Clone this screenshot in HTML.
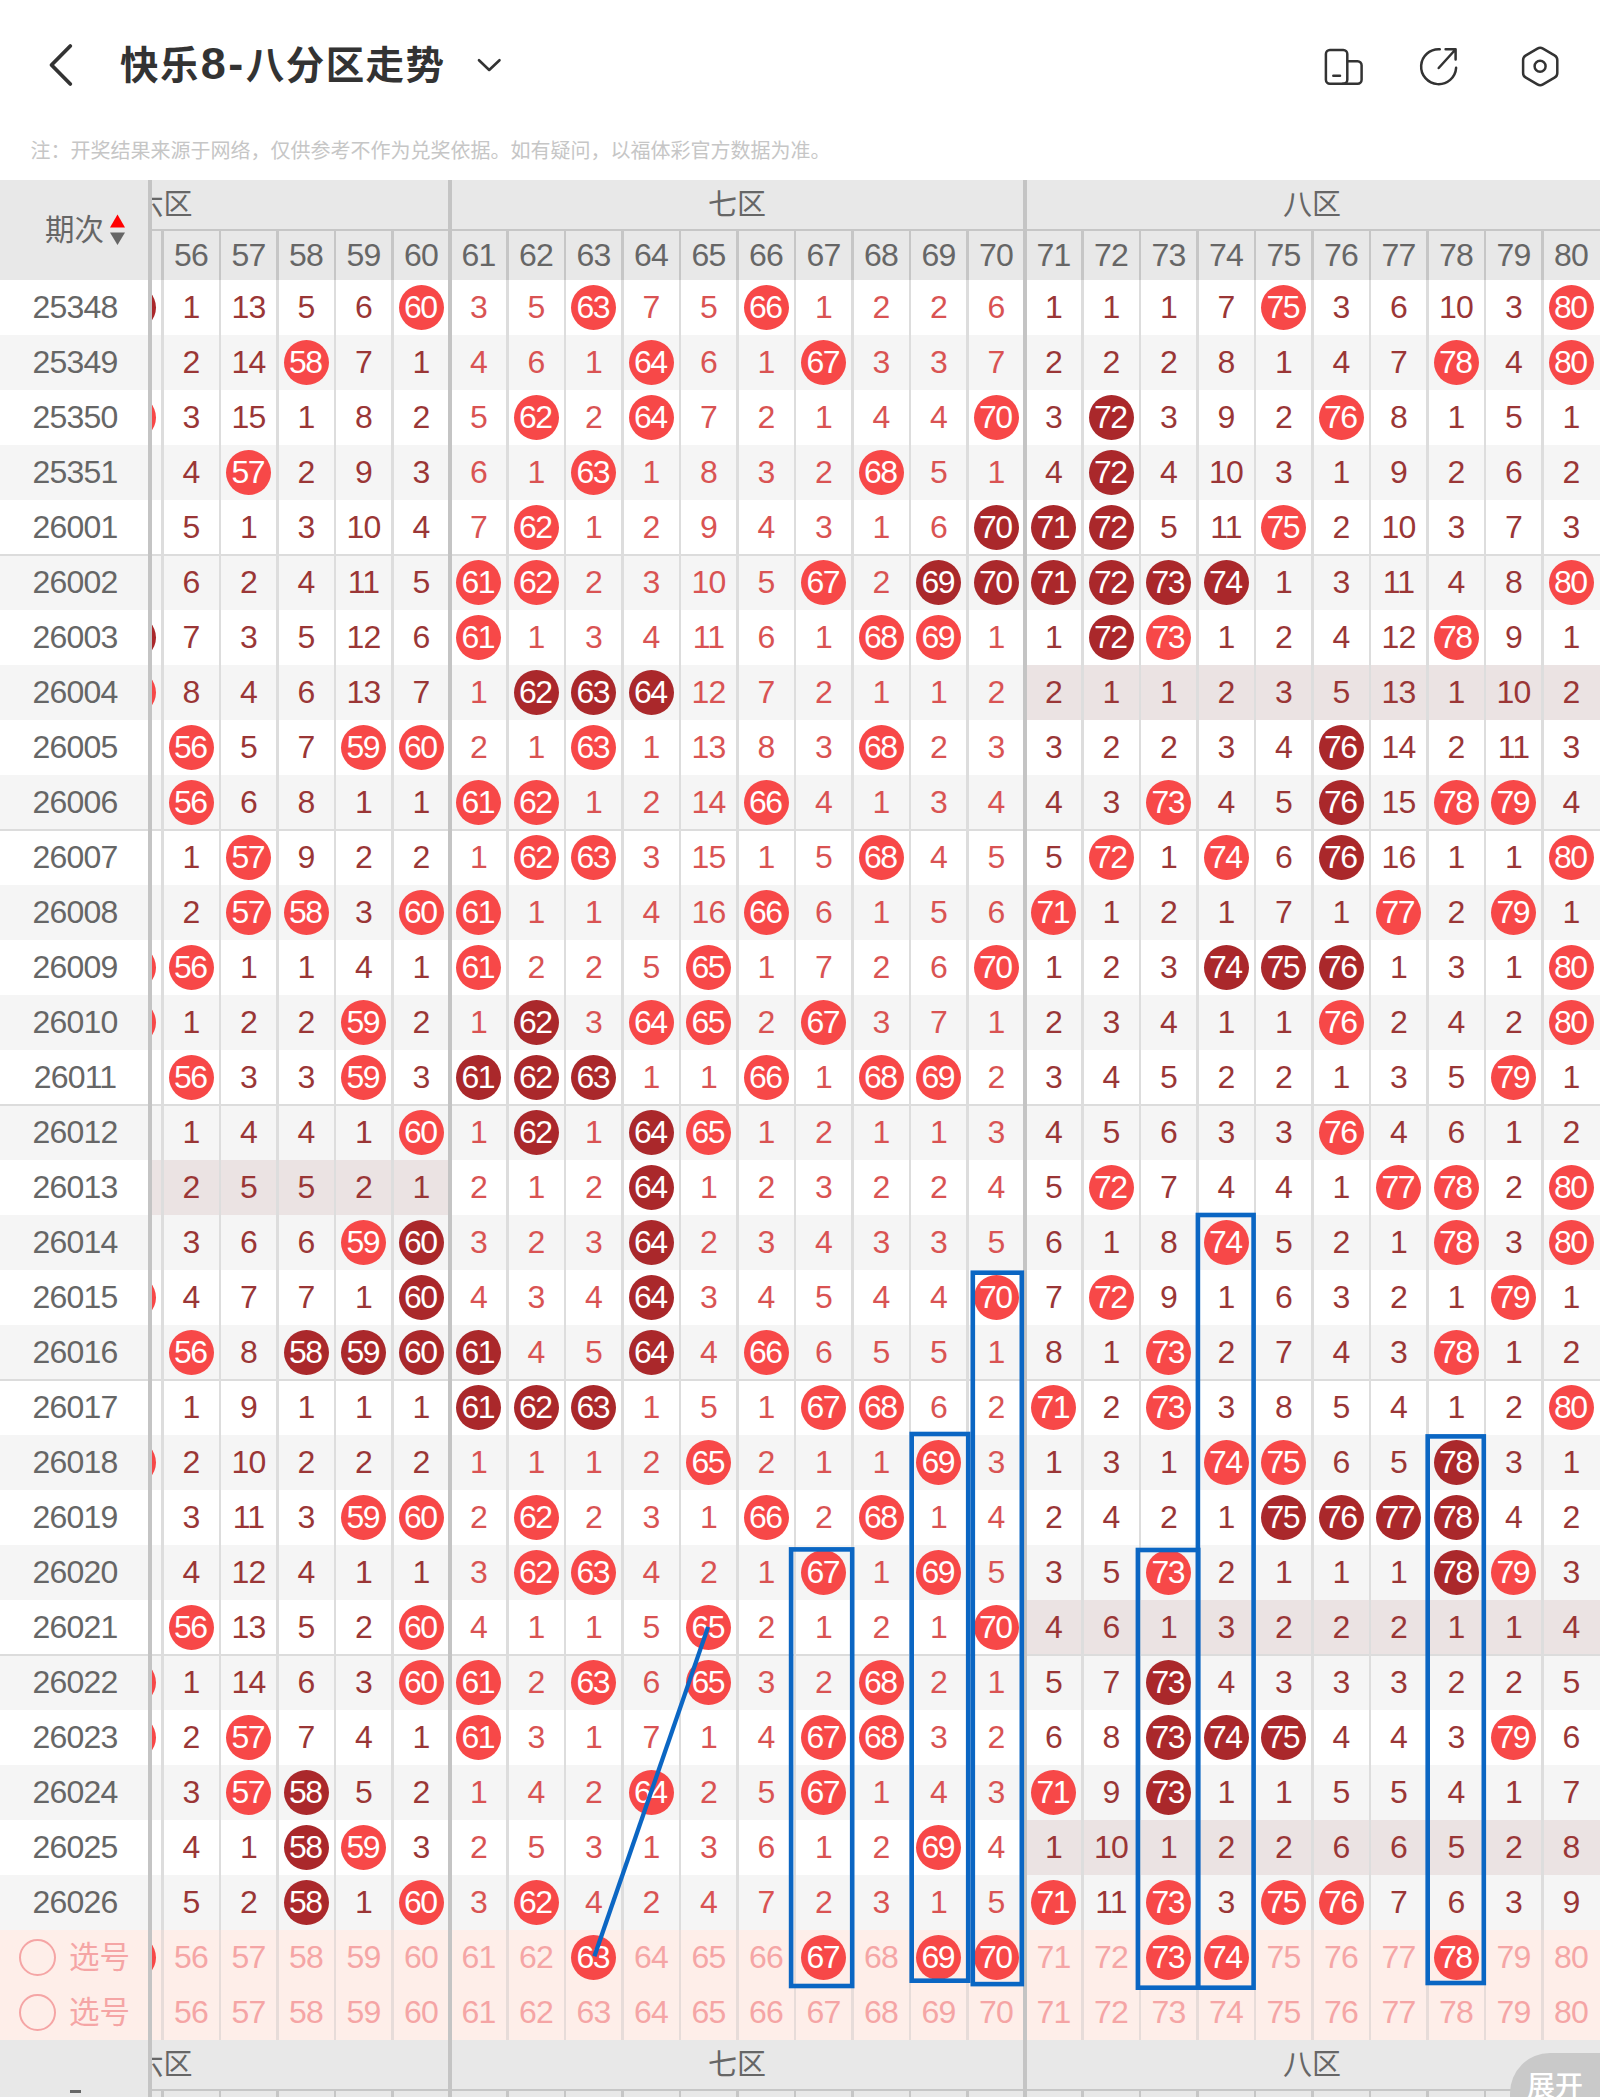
<!DOCTYPE html><html lang="zh-CN"><head><meta charset="utf-8"><title>快乐8-八分区走势</title><style>
*{box-sizing:border-box;margin:0;padding:0}
html,body{width:1600px;height:2097px;overflow:hidden;background:#fff}
body{position:relative;font-family:"Liberation Sans","Noto Sans CJK SC",sans-serif;color:#666}
.abs{position:absolute}
#title{left:120px;top:37px;font-size:38.5px;letter-spacing:1.4px;font-weight:bold;color:#333;line-height:54px;white-space:nowrap;font-family:"Liberation Sans","Noto Sans CJK SC",sans-serif}
#note{left:30.5px;top:137px;font-size:20px;line-height:28px;color:#c6c6c6;white-space:nowrap}
#tbl{left:0;top:180px;width:1600px;height:1917px;overflow:hidden}
.hd{background:#e8e8e8}
.row{position:absolute;left:0;width:1600px;height:55px}
.row.g{background:#f5f5f5}
.row.s{background:#feeee9}
.cells{position:absolute;left:162.25px;top:0;height:55px;display:flex}
.c{width:57.5px;height:55px;line-height:55px;text-align:center;font-size:32px;letter-spacing:-0.8px;white-space:nowrap;position:relative}
.z6 .c,.z8 .c{color:#9a3636}
.z7 .c{color:#d95353}
.zone{display:flex}
.b,.d{display:block;position:absolute;left:6.25px;top:5px;width:45px;height:45px;border-radius:50%;background:#f74848;color:#fff;line-height:45px;font-size:32px;letter-spacing:-1.6px;text-indent:-1.6px}
.d{background:#aa282b}
.p{position:absolute;left:111px;top:5px;width:45px;height:45px;border-radius:50%;background:#f74848}
.hl{position:absolute;top:0;height:55px;background:#ebe3e3}
.per{position:absolute;left:0;top:0;width:150px;height:55px;line-height:55px;text-align:center;font-size:32px;color:#666;letter-spacing:-0.8px}
.s .c{color:#f5a5a5}
.s .b{color:#fff}
.vl{position:absolute;width:2.2px;background:#dddddd}
.vh{position:absolute;width:2.2px;background:#c6c6c6}
.vz{position:absolute;width:4.5px;background:#c4c4c4}
.hl5{position:absolute;left:0;width:1600px;height:2px;background:#dcdcdc}
.hn{position:absolute;left:162.25px;display:flex}
.hn .c{color:#666;height:50px;line-height:50px}
.zl{position:absolute;font-size:29px;color:#666;line-height:50px;white-space:nowrap}
.radio{position:absolute;left:19px;top:9px;width:37px;height:37px;border:2px solid #f5a5a5;border-radius:50%}
.xh{position:absolute;left:69px;top:0;font-size:30.5px;line-height:55px;color:#f5a5a5;white-space:nowrap}
</style></head><body>
<svg class="abs" style="left:0;top:0" width="1600" height="180" viewBox="0 0 1600 180" fill="none" stroke="#333" stroke-width="3.2" stroke-linecap="round" stroke-linejoin="round">
<path d="M70.3 46 L51.5 65 L70.3 84" stroke-width="3.8"/>
<path d="M479 60.2 L489.2 70 L499.5 60.2" stroke-width="2.6"/>
<g stroke-width="2.5">
<rect x="1325.9" y="50" width="21.4" height="33.8" rx="4"/>
<path d="M1347.8 61.2 H1357.6 a4 4 0 0 1 4 4 V79.8 a4 4 0 0 1 -4 4 H1343"/>
<path d="M1333.3 75.7 H1340"/>
<path d="M1439.8 49.2 A17.5 17.5 0 1 0 1456.1 67.8"/>
<path d="M1438.7 68 L1455 50 M1445.6 49.3 H1455.6 V59.6"/>
<path d="M1537.4 48.6 Q1540.2 47.0 1543.0 48.6 L1554.5 55.3 Q1557.3 56.9 1557.3 60.1 L1557.3 72.9 Q1557.3 76.1 1554.5 77.7 L1543.0 84.4 Q1540.2 86.0 1537.4 84.4 L1525.9 77.7 Q1523.1 76.1 1523.1 72.9 L1523.1 60.1 Q1523.1 56.9 1525.9 55.3 Z"/>
<circle cx="1540.1" cy="66.3" r="5.5"/>
</g>
</svg>
<div id="title" class="abs">快乐<span style="font-size:45px;letter-spacing:2.5px;margin-left:1px">8-</span>八分区走势</div>
<div id="note" class="abs">注：开奖结果来源于网络，仅供参考不作为兑奖依据。如有疑问，以福体彩官方数据为准。</div>
<div id="tbl" class="abs">
<div class="abs hd" style="left:0;top:0;width:1600px;height:100px"></div>
<div class="row" style="top:100px">
<i class="p d" style="background:#aa282b"></i>
<div class="cells">
<div class="zone z6">
<div class="c">1</div>
<div class="c">13</div>
<div class="c">5</div>
<div class="c">6</div>
<div class="c"><span class="b">60</span></div>
</div>
<div class="zone z7">
<div class="c">3</div>
<div class="c">5</div>
<div class="c"><span class="b">63</span></div>
<div class="c">7</div>
<div class="c">5</div>
<div class="c"><span class="b">66</span></div>
<div class="c">1</div>
<div class="c">2</div>
<div class="c">2</div>
<div class="c">6</div>
</div>
<div class="zone z8">
<div class="c">1</div>
<div class="c">1</div>
<div class="c">1</div>
<div class="c">7</div>
<div class="c"><span class="b">75</span></div>
<div class="c">3</div>
<div class="c">6</div>
<div class="c">10</div>
<div class="c">3</div>
<div class="c"><span class="b">80</span></div>
</div>
</div>
</div>
<div class="row g" style="top:155px">
<div class="cells">
<div class="zone z6">
<div class="c">2</div>
<div class="c">14</div>
<div class="c"><span class="b">58</span></div>
<div class="c">7</div>
<div class="c">1</div>
</div>
<div class="zone z7">
<div class="c">4</div>
<div class="c">6</div>
<div class="c">1</div>
<div class="c"><span class="b">64</span></div>
<div class="c">6</div>
<div class="c">1</div>
<div class="c"><span class="b">67</span></div>
<div class="c">3</div>
<div class="c">3</div>
<div class="c">7</div>
</div>
<div class="zone z8">
<div class="c">2</div>
<div class="c">2</div>
<div class="c">2</div>
<div class="c">8</div>
<div class="c">1</div>
<div class="c">4</div>
<div class="c">7</div>
<div class="c"><span class="b">78</span></div>
<div class="c">4</div>
<div class="c"><span class="b">80</span></div>
</div>
</div>
</div>
<div class="row" style="top:210px">
<i class="p"></i>
<div class="cells">
<div class="zone z6">
<div class="c">3</div>
<div class="c">15</div>
<div class="c">1</div>
<div class="c">8</div>
<div class="c">2</div>
</div>
<div class="zone z7">
<div class="c">5</div>
<div class="c"><span class="b">62</span></div>
<div class="c">2</div>
<div class="c"><span class="b">64</span></div>
<div class="c">7</div>
<div class="c">2</div>
<div class="c">1</div>
<div class="c">4</div>
<div class="c">4</div>
<div class="c"><span class="b">70</span></div>
</div>
<div class="zone z8">
<div class="c">3</div>
<div class="c"><span class="d">72</span></div>
<div class="c">3</div>
<div class="c">9</div>
<div class="c">2</div>
<div class="c"><span class="b">76</span></div>
<div class="c">8</div>
<div class="c">1</div>
<div class="c">5</div>
<div class="c">1</div>
</div>
</div>
</div>
<div class="row g" style="top:265px">
<div class="cells">
<div class="zone z6">
<div class="c">4</div>
<div class="c"><span class="b">57</span></div>
<div class="c">2</div>
<div class="c">9</div>
<div class="c">3</div>
</div>
<div class="zone z7">
<div class="c">6</div>
<div class="c">1</div>
<div class="c"><span class="b">63</span></div>
<div class="c">1</div>
<div class="c">8</div>
<div class="c">3</div>
<div class="c">2</div>
<div class="c"><span class="b">68</span></div>
<div class="c">5</div>
<div class="c">1</div>
</div>
<div class="zone z8">
<div class="c">4</div>
<div class="c"><span class="d">72</span></div>
<div class="c">4</div>
<div class="c">10</div>
<div class="c">3</div>
<div class="c">1</div>
<div class="c">9</div>
<div class="c">2</div>
<div class="c">6</div>
<div class="c">2</div>
</div>
</div>
</div>
<div class="row" style="top:320px">
<div class="cells">
<div class="zone z6">
<div class="c">5</div>
<div class="c">1</div>
<div class="c">3</div>
<div class="c">10</div>
<div class="c">4</div>
</div>
<div class="zone z7">
<div class="c">7</div>
<div class="c"><span class="b">62</span></div>
<div class="c">1</div>
<div class="c">2</div>
<div class="c">9</div>
<div class="c">4</div>
<div class="c">3</div>
<div class="c">1</div>
<div class="c">6</div>
<div class="c"><span class="d">70</span></div>
</div>
<div class="zone z8">
<div class="c"><span class="d">71</span></div>
<div class="c"><span class="d">72</span></div>
<div class="c">5</div>
<div class="c">11</div>
<div class="c"><span class="b">75</span></div>
<div class="c">2</div>
<div class="c">10</div>
<div class="c">3</div>
<div class="c">7</div>
<div class="c">3</div>
</div>
</div>
</div>
<div class="row g" style="top:375px">
<div class="cells">
<div class="zone z6">
<div class="c">6</div>
<div class="c">2</div>
<div class="c">4</div>
<div class="c">11</div>
<div class="c">5</div>
</div>
<div class="zone z7">
<div class="c"><span class="b">61</span></div>
<div class="c"><span class="b">62</span></div>
<div class="c">2</div>
<div class="c">3</div>
<div class="c">10</div>
<div class="c">5</div>
<div class="c"><span class="b">67</span></div>
<div class="c">2</div>
<div class="c"><span class="d">69</span></div>
<div class="c"><span class="d">70</span></div>
</div>
<div class="zone z8">
<div class="c"><span class="d">71</span></div>
<div class="c"><span class="d">72</span></div>
<div class="c"><span class="d">73</span></div>
<div class="c"><span class="d">74</span></div>
<div class="c">1</div>
<div class="c">3</div>
<div class="c">11</div>
<div class="c">4</div>
<div class="c">8</div>
<div class="c"><span class="b">80</span></div>
</div>
</div>
</div>
<div class="row" style="top:430px">
<i class="p d" style="background:#aa282b"></i>
<div class="cells">
<div class="zone z6">
<div class="c">7</div>
<div class="c">3</div>
<div class="c">5</div>
<div class="c">12</div>
<div class="c">6</div>
</div>
<div class="zone z7">
<div class="c"><span class="b">61</span></div>
<div class="c">1</div>
<div class="c">3</div>
<div class="c">4</div>
<div class="c">11</div>
<div class="c">6</div>
<div class="c">1</div>
<div class="c"><span class="b">68</span></div>
<div class="c"><span class="b">69</span></div>
<div class="c">1</div>
</div>
<div class="zone z8">
<div class="c">1</div>
<div class="c"><span class="d">72</span></div>
<div class="c"><span class="b">73</span></div>
<div class="c">1</div>
<div class="c">2</div>
<div class="c">4</div>
<div class="c">12</div>
<div class="c"><span class="b">78</span></div>
<div class="c">9</div>
<div class="c">1</div>
</div>
</div>
</div>
<div class="row g" style="top:485px">
<div class="hl" style="left:1024.75px;width:575.25px"></div>
<i class="p"></i>
<div class="cells">
<div class="zone z6">
<div class="c">8</div>
<div class="c">4</div>
<div class="c">6</div>
<div class="c">13</div>
<div class="c">7</div>
</div>
<div class="zone z7">
<div class="c">1</div>
<div class="c"><span class="d">62</span></div>
<div class="c"><span class="d">63</span></div>
<div class="c"><span class="d">64</span></div>
<div class="c">12</div>
<div class="c">7</div>
<div class="c">2</div>
<div class="c">1</div>
<div class="c">1</div>
<div class="c">2</div>
</div>
<div class="zone z8">
<div class="c">2</div>
<div class="c">1</div>
<div class="c">1</div>
<div class="c">2</div>
<div class="c">3</div>
<div class="c">5</div>
<div class="c">13</div>
<div class="c">1</div>
<div class="c">10</div>
<div class="c">2</div>
</div>
</div>
</div>
<div class="row" style="top:540px">
<div class="cells">
<div class="zone z6">
<div class="c"><span class="b">56</span></div>
<div class="c">5</div>
<div class="c">7</div>
<div class="c"><span class="b">59</span></div>
<div class="c"><span class="b">60</span></div>
</div>
<div class="zone z7">
<div class="c">2</div>
<div class="c">1</div>
<div class="c"><span class="b">63</span></div>
<div class="c">1</div>
<div class="c">13</div>
<div class="c">8</div>
<div class="c">3</div>
<div class="c"><span class="b">68</span></div>
<div class="c">2</div>
<div class="c">3</div>
</div>
<div class="zone z8">
<div class="c">3</div>
<div class="c">2</div>
<div class="c">2</div>
<div class="c">3</div>
<div class="c">4</div>
<div class="c"><span class="d">76</span></div>
<div class="c">14</div>
<div class="c">2</div>
<div class="c">11</div>
<div class="c">3</div>
</div>
</div>
</div>
<div class="row g" style="top:595px">
<div class="cells">
<div class="zone z6">
<div class="c"><span class="b">56</span></div>
<div class="c">6</div>
<div class="c">8</div>
<div class="c">1</div>
<div class="c">1</div>
</div>
<div class="zone z7">
<div class="c"><span class="b">61</span></div>
<div class="c"><span class="b">62</span></div>
<div class="c">1</div>
<div class="c">2</div>
<div class="c">14</div>
<div class="c"><span class="b">66</span></div>
<div class="c">4</div>
<div class="c">1</div>
<div class="c">3</div>
<div class="c">4</div>
</div>
<div class="zone z8">
<div class="c">4</div>
<div class="c">3</div>
<div class="c"><span class="b">73</span></div>
<div class="c">4</div>
<div class="c">5</div>
<div class="c"><span class="d">76</span></div>
<div class="c">15</div>
<div class="c"><span class="b">78</span></div>
<div class="c"><span class="b">79</span></div>
<div class="c">4</div>
</div>
</div>
</div>
<div class="row" style="top:650px">
<div class="cells">
<div class="zone z6">
<div class="c">1</div>
<div class="c"><span class="b">57</span></div>
<div class="c">9</div>
<div class="c">2</div>
<div class="c">2</div>
</div>
<div class="zone z7">
<div class="c">1</div>
<div class="c"><span class="b">62</span></div>
<div class="c"><span class="b">63</span></div>
<div class="c">3</div>
<div class="c">15</div>
<div class="c">1</div>
<div class="c">5</div>
<div class="c"><span class="b">68</span></div>
<div class="c">4</div>
<div class="c">5</div>
</div>
<div class="zone z8">
<div class="c">5</div>
<div class="c"><span class="b">72</span></div>
<div class="c">1</div>
<div class="c"><span class="b">74</span></div>
<div class="c">6</div>
<div class="c"><span class="d">76</span></div>
<div class="c">16</div>
<div class="c">1</div>
<div class="c">1</div>
<div class="c"><span class="b">80</span></div>
</div>
</div>
</div>
<div class="row g" style="top:705px">
<div class="cells">
<div class="zone z6">
<div class="c">2</div>
<div class="c"><span class="b">57</span></div>
<div class="c"><span class="b">58</span></div>
<div class="c">3</div>
<div class="c"><span class="b">60</span></div>
</div>
<div class="zone z7">
<div class="c"><span class="b">61</span></div>
<div class="c">1</div>
<div class="c">1</div>
<div class="c">4</div>
<div class="c">16</div>
<div class="c"><span class="b">66</span></div>
<div class="c">6</div>
<div class="c">1</div>
<div class="c">5</div>
<div class="c">6</div>
</div>
<div class="zone z8">
<div class="c"><span class="b">71</span></div>
<div class="c">1</div>
<div class="c">2</div>
<div class="c">1</div>
<div class="c">7</div>
<div class="c">1</div>
<div class="c"><span class="b">77</span></div>
<div class="c">2</div>
<div class="c"><span class="b">79</span></div>
<div class="c">1</div>
</div>
</div>
</div>
<div class="row" style="top:760px">
<i class="p"></i>
<div class="cells">
<div class="zone z6">
<div class="c"><span class="b">56</span></div>
<div class="c">1</div>
<div class="c">1</div>
<div class="c">4</div>
<div class="c">1</div>
</div>
<div class="zone z7">
<div class="c"><span class="b">61</span></div>
<div class="c">2</div>
<div class="c">2</div>
<div class="c">5</div>
<div class="c"><span class="b">65</span></div>
<div class="c">1</div>
<div class="c">7</div>
<div class="c">2</div>
<div class="c">6</div>
<div class="c"><span class="b">70</span></div>
</div>
<div class="zone z8">
<div class="c">1</div>
<div class="c">2</div>
<div class="c">3</div>
<div class="c"><span class="d">74</span></div>
<div class="c"><span class="d">75</span></div>
<div class="c"><span class="d">76</span></div>
<div class="c">1</div>
<div class="c">3</div>
<div class="c">1</div>
<div class="c"><span class="b">80</span></div>
</div>
</div>
</div>
<div class="row g" style="top:815px">
<i class="p"></i>
<div class="cells">
<div class="zone z6">
<div class="c">1</div>
<div class="c">2</div>
<div class="c">2</div>
<div class="c"><span class="b">59</span></div>
<div class="c">2</div>
</div>
<div class="zone z7">
<div class="c">1</div>
<div class="c"><span class="d">62</span></div>
<div class="c">3</div>
<div class="c"><span class="b">64</span></div>
<div class="c"><span class="b">65</span></div>
<div class="c">2</div>
<div class="c"><span class="b">67</span></div>
<div class="c">3</div>
<div class="c">7</div>
<div class="c">1</div>
</div>
<div class="zone z8">
<div class="c">2</div>
<div class="c">3</div>
<div class="c">4</div>
<div class="c">1</div>
<div class="c">1</div>
<div class="c"><span class="b">76</span></div>
<div class="c">2</div>
<div class="c">4</div>
<div class="c">2</div>
<div class="c"><span class="b">80</span></div>
</div>
</div>
</div>
<div class="row" style="top:870px">
<div class="cells">
<div class="zone z6">
<div class="c"><span class="b">56</span></div>
<div class="c">3</div>
<div class="c">3</div>
<div class="c"><span class="b">59</span></div>
<div class="c">3</div>
</div>
<div class="zone z7">
<div class="c"><span class="d">61</span></div>
<div class="c"><span class="d">62</span></div>
<div class="c"><span class="d">63</span></div>
<div class="c">1</div>
<div class="c">1</div>
<div class="c"><span class="b">66</span></div>
<div class="c">1</div>
<div class="c"><span class="b">68</span></div>
<div class="c"><span class="b">69</span></div>
<div class="c">2</div>
</div>
<div class="zone z8">
<div class="c">3</div>
<div class="c">4</div>
<div class="c">5</div>
<div class="c">2</div>
<div class="c">2</div>
<div class="c">1</div>
<div class="c">3</div>
<div class="c">5</div>
<div class="c"><span class="b">79</span></div>
<div class="c">1</div>
</div>
</div>
</div>
<div class="row g" style="top:925px">
<div class="cells">
<div class="zone z6">
<div class="c">1</div>
<div class="c">4</div>
<div class="c">4</div>
<div class="c">1</div>
<div class="c"><span class="b">60</span></div>
</div>
<div class="zone z7">
<div class="c">1</div>
<div class="c"><span class="d">62</span></div>
<div class="c">1</div>
<div class="c"><span class="d">64</span></div>
<div class="c"><span class="b">65</span></div>
<div class="c">1</div>
<div class="c">2</div>
<div class="c">1</div>
<div class="c">1</div>
<div class="c">3</div>
</div>
<div class="zone z8">
<div class="c">4</div>
<div class="c">5</div>
<div class="c">6</div>
<div class="c">3</div>
<div class="c">3</div>
<div class="c"><span class="b">76</span></div>
<div class="c">4</div>
<div class="c">6</div>
<div class="c">1</div>
<div class="c">2</div>
</div>
</div>
</div>
<div class="row" style="top:980px">
<div class="hl" style="left:152px;width:297.75px"></div>
<div class="cells">
<div class="zone z6">
<div class="c">2</div>
<div class="c">5</div>
<div class="c">5</div>
<div class="c">2</div>
<div class="c">1</div>
</div>
<div class="zone z7">
<div class="c">2</div>
<div class="c">1</div>
<div class="c">2</div>
<div class="c"><span class="d">64</span></div>
<div class="c">1</div>
<div class="c">2</div>
<div class="c">3</div>
<div class="c">2</div>
<div class="c">2</div>
<div class="c">4</div>
</div>
<div class="zone z8">
<div class="c">5</div>
<div class="c"><span class="b">72</span></div>
<div class="c">7</div>
<div class="c">4</div>
<div class="c">4</div>
<div class="c">1</div>
<div class="c"><span class="b">77</span></div>
<div class="c"><span class="b">78</span></div>
<div class="c">2</div>
<div class="c"><span class="b">80</span></div>
</div>
</div>
</div>
<div class="row g" style="top:1035px">
<div class="cells">
<div class="zone z6">
<div class="c">3</div>
<div class="c">6</div>
<div class="c">6</div>
<div class="c"><span class="b">59</span></div>
<div class="c"><span class="d">60</span></div>
</div>
<div class="zone z7">
<div class="c">3</div>
<div class="c">2</div>
<div class="c">3</div>
<div class="c"><span class="d">64</span></div>
<div class="c">2</div>
<div class="c">3</div>
<div class="c">4</div>
<div class="c">3</div>
<div class="c">3</div>
<div class="c">5</div>
</div>
<div class="zone z8">
<div class="c">6</div>
<div class="c">1</div>
<div class="c">8</div>
<div class="c"><span class="b">74</span></div>
<div class="c">5</div>
<div class="c">2</div>
<div class="c">1</div>
<div class="c"><span class="b">78</span></div>
<div class="c">3</div>
<div class="c"><span class="b">80</span></div>
</div>
</div>
</div>
<div class="row" style="top:1090px">
<i class="p"></i>
<div class="cells">
<div class="zone z6">
<div class="c">4</div>
<div class="c">7</div>
<div class="c">7</div>
<div class="c">1</div>
<div class="c"><span class="d">60</span></div>
</div>
<div class="zone z7">
<div class="c">4</div>
<div class="c">3</div>
<div class="c">4</div>
<div class="c"><span class="d">64</span></div>
<div class="c">3</div>
<div class="c">4</div>
<div class="c">5</div>
<div class="c">4</div>
<div class="c">4</div>
<div class="c"><span class="b">70</span></div>
</div>
<div class="zone z8">
<div class="c">7</div>
<div class="c"><span class="b">72</span></div>
<div class="c">9</div>
<div class="c">1</div>
<div class="c">6</div>
<div class="c">3</div>
<div class="c">2</div>
<div class="c">1</div>
<div class="c"><span class="b">79</span></div>
<div class="c">1</div>
</div>
</div>
</div>
<div class="row g" style="top:1145px">
<div class="cells">
<div class="zone z6">
<div class="c"><span class="b">56</span></div>
<div class="c">8</div>
<div class="c"><span class="d">58</span></div>
<div class="c"><span class="d">59</span></div>
<div class="c"><span class="d">60</span></div>
</div>
<div class="zone z7">
<div class="c"><span class="d">61</span></div>
<div class="c">4</div>
<div class="c">5</div>
<div class="c"><span class="d">64</span></div>
<div class="c">4</div>
<div class="c"><span class="b">66</span></div>
<div class="c">6</div>
<div class="c">5</div>
<div class="c">5</div>
<div class="c">1</div>
</div>
<div class="zone z8">
<div class="c">8</div>
<div class="c">1</div>
<div class="c"><span class="b">73</span></div>
<div class="c">2</div>
<div class="c">7</div>
<div class="c">4</div>
<div class="c">3</div>
<div class="c"><span class="b">78</span></div>
<div class="c">1</div>
<div class="c">2</div>
</div>
</div>
</div>
<div class="row" style="top:1200px">
<div class="cells">
<div class="zone z6">
<div class="c">1</div>
<div class="c">9</div>
<div class="c">1</div>
<div class="c">1</div>
<div class="c">1</div>
</div>
<div class="zone z7">
<div class="c"><span class="d">61</span></div>
<div class="c"><span class="d">62</span></div>
<div class="c"><span class="d">63</span></div>
<div class="c">1</div>
<div class="c">5</div>
<div class="c">1</div>
<div class="c"><span class="b">67</span></div>
<div class="c"><span class="b">68</span></div>
<div class="c">6</div>
<div class="c">2</div>
</div>
<div class="zone z8">
<div class="c"><span class="b">71</span></div>
<div class="c">2</div>
<div class="c"><span class="b">73</span></div>
<div class="c">3</div>
<div class="c">8</div>
<div class="c">5</div>
<div class="c">4</div>
<div class="c">1</div>
<div class="c">2</div>
<div class="c"><span class="b">80</span></div>
</div>
</div>
</div>
<div class="row g" style="top:1255px">
<i class="p"></i>
<div class="cells">
<div class="zone z6">
<div class="c">2</div>
<div class="c">10</div>
<div class="c">2</div>
<div class="c">2</div>
<div class="c">2</div>
</div>
<div class="zone z7">
<div class="c">1</div>
<div class="c">1</div>
<div class="c">1</div>
<div class="c">2</div>
<div class="c"><span class="b">65</span></div>
<div class="c">2</div>
<div class="c">1</div>
<div class="c">1</div>
<div class="c"><span class="b">69</span></div>
<div class="c">3</div>
</div>
<div class="zone z8">
<div class="c">1</div>
<div class="c">3</div>
<div class="c">1</div>
<div class="c"><span class="b">74</span></div>
<div class="c"><span class="b">75</span></div>
<div class="c">6</div>
<div class="c">5</div>
<div class="c"><span class="d">78</span></div>
<div class="c">3</div>
<div class="c">1</div>
</div>
</div>
</div>
<div class="row" style="top:1310px">
<div class="cells">
<div class="zone z6">
<div class="c">3</div>
<div class="c">11</div>
<div class="c">3</div>
<div class="c"><span class="b">59</span></div>
<div class="c"><span class="b">60</span></div>
</div>
<div class="zone z7">
<div class="c">2</div>
<div class="c"><span class="b">62</span></div>
<div class="c">2</div>
<div class="c">3</div>
<div class="c">1</div>
<div class="c"><span class="b">66</span></div>
<div class="c">2</div>
<div class="c"><span class="b">68</span></div>
<div class="c">1</div>
<div class="c">4</div>
</div>
<div class="zone z8">
<div class="c">2</div>
<div class="c">4</div>
<div class="c">2</div>
<div class="c">1</div>
<div class="c"><span class="d">75</span></div>
<div class="c"><span class="d">76</span></div>
<div class="c"><span class="d">77</span></div>
<div class="c"><span class="d">78</span></div>
<div class="c">4</div>
<div class="c">2</div>
</div>
</div>
</div>
<div class="row g" style="top:1365px">
<div class="cells">
<div class="zone z6">
<div class="c">4</div>
<div class="c">12</div>
<div class="c">4</div>
<div class="c">1</div>
<div class="c">1</div>
</div>
<div class="zone z7">
<div class="c">3</div>
<div class="c"><span class="b">62</span></div>
<div class="c"><span class="b">63</span></div>
<div class="c">4</div>
<div class="c">2</div>
<div class="c">1</div>
<div class="c"><span class="b">67</span></div>
<div class="c">1</div>
<div class="c"><span class="b">69</span></div>
<div class="c">5</div>
</div>
<div class="zone z8">
<div class="c">3</div>
<div class="c">5</div>
<div class="c"><span class="b">73</span></div>
<div class="c">2</div>
<div class="c">1</div>
<div class="c">1</div>
<div class="c">1</div>
<div class="c"><span class="d">78</span></div>
<div class="c"><span class="b">79</span></div>
<div class="c">3</div>
</div>
</div>
</div>
<div class="row" style="top:1420px">
<div class="hl" style="left:1024.75px;width:575.25px"></div>
<div class="cells">
<div class="zone z6">
<div class="c"><span class="b">56</span></div>
<div class="c">13</div>
<div class="c">5</div>
<div class="c">2</div>
<div class="c"><span class="b">60</span></div>
</div>
<div class="zone z7">
<div class="c">4</div>
<div class="c">1</div>
<div class="c">1</div>
<div class="c">5</div>
<div class="c"><span class="b">65</span></div>
<div class="c">2</div>
<div class="c">1</div>
<div class="c">2</div>
<div class="c">1</div>
<div class="c"><span class="b">70</span></div>
</div>
<div class="zone z8">
<div class="c">4</div>
<div class="c">6</div>
<div class="c">1</div>
<div class="c">3</div>
<div class="c">2</div>
<div class="c">2</div>
<div class="c">2</div>
<div class="c">1</div>
<div class="c">1</div>
<div class="c">4</div>
</div>
</div>
</div>
<div class="row g" style="top:1475px">
<i class="p"></i>
<div class="cells">
<div class="zone z6">
<div class="c">1</div>
<div class="c">14</div>
<div class="c">6</div>
<div class="c">3</div>
<div class="c"><span class="b">60</span></div>
</div>
<div class="zone z7">
<div class="c"><span class="b">61</span></div>
<div class="c">2</div>
<div class="c"><span class="b">63</span></div>
<div class="c">6</div>
<div class="c"><span class="b">65</span></div>
<div class="c">3</div>
<div class="c">2</div>
<div class="c"><span class="b">68</span></div>
<div class="c">2</div>
<div class="c">1</div>
</div>
<div class="zone z8">
<div class="c">5</div>
<div class="c">7</div>
<div class="c"><span class="d">73</span></div>
<div class="c">4</div>
<div class="c">3</div>
<div class="c">3</div>
<div class="c">3</div>
<div class="c">2</div>
<div class="c">2</div>
<div class="c">5</div>
</div>
</div>
</div>
<div class="row" style="top:1530px">
<i class="p"></i>
<div class="cells">
<div class="zone z6">
<div class="c">2</div>
<div class="c"><span class="b">57</span></div>
<div class="c">7</div>
<div class="c">4</div>
<div class="c">1</div>
</div>
<div class="zone z7">
<div class="c"><span class="b">61</span></div>
<div class="c">3</div>
<div class="c">1</div>
<div class="c">7</div>
<div class="c">1</div>
<div class="c">4</div>
<div class="c"><span class="b">67</span></div>
<div class="c"><span class="b">68</span></div>
<div class="c">3</div>
<div class="c">2</div>
</div>
<div class="zone z8">
<div class="c">6</div>
<div class="c">8</div>
<div class="c"><span class="d">73</span></div>
<div class="c"><span class="d">74</span></div>
<div class="c"><span class="d">75</span></div>
<div class="c">4</div>
<div class="c">4</div>
<div class="c">3</div>
<div class="c"><span class="b">79</span></div>
<div class="c">6</div>
</div>
</div>
</div>
<div class="row g" style="top:1585px">
<div class="cells">
<div class="zone z6">
<div class="c">3</div>
<div class="c"><span class="b">57</span></div>
<div class="c"><span class="d">58</span></div>
<div class="c">5</div>
<div class="c">2</div>
</div>
<div class="zone z7">
<div class="c">1</div>
<div class="c">4</div>
<div class="c">2</div>
<div class="c"><span class="b">64</span></div>
<div class="c">2</div>
<div class="c">5</div>
<div class="c"><span class="b">67</span></div>
<div class="c">1</div>
<div class="c">4</div>
<div class="c">3</div>
</div>
<div class="zone z8">
<div class="c"><span class="b">71</span></div>
<div class="c">9</div>
<div class="c"><span class="d">73</span></div>
<div class="c">1</div>
<div class="c">1</div>
<div class="c">5</div>
<div class="c">5</div>
<div class="c">4</div>
<div class="c">1</div>
<div class="c">7</div>
</div>
</div>
</div>
<div class="row" style="top:1640px">
<div class="hl" style="left:1024.75px;width:575.25px"></div>
<div class="cells">
<div class="zone z6">
<div class="c">4</div>
<div class="c">1</div>
<div class="c"><span class="d">58</span></div>
<div class="c"><span class="b">59</span></div>
<div class="c">3</div>
</div>
<div class="zone z7">
<div class="c">2</div>
<div class="c">5</div>
<div class="c">3</div>
<div class="c">1</div>
<div class="c">3</div>
<div class="c">6</div>
<div class="c">1</div>
<div class="c">2</div>
<div class="c"><span class="b">69</span></div>
<div class="c">4</div>
</div>
<div class="zone z8">
<div class="c">1</div>
<div class="c">10</div>
<div class="c">1</div>
<div class="c">2</div>
<div class="c">2</div>
<div class="c">6</div>
<div class="c">6</div>
<div class="c">5</div>
<div class="c">2</div>
<div class="c">8</div>
</div>
</div>
</div>
<div class="row g" style="top:1695px">
<div class="cells">
<div class="zone z6">
<div class="c">5</div>
<div class="c">2</div>
<div class="c"><span class="d">58</span></div>
<div class="c">1</div>
<div class="c"><span class="b">60</span></div>
</div>
<div class="zone z7">
<div class="c">3</div>
<div class="c"><span class="b">62</span></div>
<div class="c">4</div>
<div class="c">2</div>
<div class="c">4</div>
<div class="c">7</div>
<div class="c">2</div>
<div class="c">3</div>
<div class="c">1</div>
<div class="c">5</div>
</div>
<div class="zone z8">
<div class="c"><span class="b">71</span></div>
<div class="c">11</div>
<div class="c"><span class="b">73</span></div>
<div class="c">3</div>
<div class="c"><span class="b">75</span></div>
<div class="c"><span class="b">76</span></div>
<div class="c">7</div>
<div class="c">6</div>
<div class="c">3</div>
<div class="c">9</div>
</div>
</div>
</div>
<div class="row s" style="top:1750px">
<i class="p"></i>
<div class="cells">
<div class="c">56</div>
<div class="c">57</div>
<div class="c">58</div>
<div class="c">59</div>
<div class="c">60</div>
<div class="c">61</div>
<div class="c">62</div>
<div class="c"><span class="b">63</span></div>
<div class="c">64</div>
<div class="c">65</div>
<div class="c">66</div>
<div class="c"><span class="b">67</span></div>
<div class="c">68</div>
<div class="c"><span class="b">69</span></div>
<div class="c"><span class="b">70</span></div>
<div class="c">71</div>
<div class="c">72</div>
<div class="c"><span class="b">73</span></div>
<div class="c"><span class="b">74</span></div>
<div class="c">75</div>
<div class="c">76</div>
<div class="c">77</div>
<div class="c"><span class="b">78</span></div>
<div class="c">79</div>
<div class="c">80</div>
</div></div>
<div class="row s" style="top:1805px">
<div class="cells">
<div class="c">56</div>
<div class="c">57</div>
<div class="c">58</div>
<div class="c">59</div>
<div class="c">60</div>
<div class="c">61</div>
<div class="c">62</div>
<div class="c">63</div>
<div class="c">64</div>
<div class="c">65</div>
<div class="c">66</div>
<div class="c">67</div>
<div class="c">68</div>
<div class="c">69</div>
<div class="c">70</div>
<div class="c">71</div>
<div class="c">72</div>
<div class="c">73</div>
<div class="c">74</div>
<div class="c">75</div>
<div class="c">76</div>
<div class="c">77</div>
<div class="c">78</div>
<div class="c">79</div>
<div class="c">80</div>
</div></div>
<div class="abs hd" style="left:0;top:1860px;width:1600px;height:60px"></div>
<div class="hl5" style="top:49px;left:152px;height:2.2px;background:#c6c6c6"></div>
<div class="hl5" style="top:374px"></div>
<div class="hl5" style="top:649px"></div>
<div class="hl5" style="top:924px"></div>
<div class="hl5" style="top:1199px"></div>
<div class="hl5" style="top:1474px"></div>
<div class="hl5" style="top:1909px;left:152px;height:2.2px;background:#c6c6c6"></div>
<div class="vh" style="left:161.45px;top:51px;height:49px"></div>
<div class="vl" style="left:161.45px;top:100px;height:1650px"></div>
<div class="vl" style="left:161.45px;top:1750px;height:110px;background:#e7dcd9"></div>
<div class="vh" style="left:161.45px;top:1911px;height:10px"></div>
<div class="vh" style="left:218.95px;top:51px;height:49px"></div>
<div class="vl" style="left:218.95px;top:100px;height:1650px"></div>
<div class="vl" style="left:218.95px;top:1750px;height:110px;background:#e7dcd9"></div>
<div class="vh" style="left:218.95px;top:1911px;height:10px"></div>
<div class="vh" style="left:276.45px;top:51px;height:49px"></div>
<div class="vl" style="left:276.45px;top:100px;height:1650px"></div>
<div class="vl" style="left:276.45px;top:1750px;height:110px;background:#e7dcd9"></div>
<div class="vh" style="left:276.45px;top:1911px;height:10px"></div>
<div class="vh" style="left:333.95px;top:51px;height:49px"></div>
<div class="vl" style="left:333.95px;top:100px;height:1650px"></div>
<div class="vl" style="left:333.95px;top:1750px;height:110px;background:#e7dcd9"></div>
<div class="vh" style="left:333.95px;top:1911px;height:10px"></div>
<div class="vh" style="left:391.45px;top:51px;height:49px"></div>
<div class="vl" style="left:391.45px;top:100px;height:1650px"></div>
<div class="vl" style="left:391.45px;top:1750px;height:110px;background:#e7dcd9"></div>
<div class="vh" style="left:391.45px;top:1911px;height:10px"></div>
<div class="vz" style="left:447.5px;top:0;height:1917px"></div>
<div class="vh" style="left:506.45px;top:51px;height:49px"></div>
<div class="vl" style="left:506.45px;top:100px;height:1650px"></div>
<div class="vl" style="left:506.45px;top:1750px;height:110px;background:#e7dcd9"></div>
<div class="vh" style="left:506.45px;top:1911px;height:10px"></div>
<div class="vh" style="left:563.95px;top:51px;height:49px"></div>
<div class="vl" style="left:563.95px;top:100px;height:1650px"></div>
<div class="vl" style="left:563.95px;top:1750px;height:110px;background:#e7dcd9"></div>
<div class="vh" style="left:563.95px;top:1911px;height:10px"></div>
<div class="vh" style="left:621.45px;top:51px;height:49px"></div>
<div class="vl" style="left:621.45px;top:100px;height:1650px"></div>
<div class="vl" style="left:621.45px;top:1750px;height:110px;background:#e7dcd9"></div>
<div class="vh" style="left:621.45px;top:1911px;height:10px"></div>
<div class="vh" style="left:678.95px;top:51px;height:49px"></div>
<div class="vl" style="left:678.95px;top:100px;height:1650px"></div>
<div class="vl" style="left:678.95px;top:1750px;height:110px;background:#e7dcd9"></div>
<div class="vh" style="left:678.95px;top:1911px;height:10px"></div>
<div class="vh" style="left:736.45px;top:51px;height:49px"></div>
<div class="vl" style="left:736.45px;top:100px;height:1650px"></div>
<div class="vl" style="left:736.45px;top:1750px;height:110px;background:#e7dcd9"></div>
<div class="vh" style="left:736.45px;top:1911px;height:10px"></div>
<div class="vh" style="left:793.95px;top:51px;height:49px"></div>
<div class="vl" style="left:793.95px;top:100px;height:1650px"></div>
<div class="vl" style="left:793.95px;top:1750px;height:110px;background:#e7dcd9"></div>
<div class="vh" style="left:793.95px;top:1911px;height:10px"></div>
<div class="vh" style="left:851.45px;top:51px;height:49px"></div>
<div class="vl" style="left:851.45px;top:100px;height:1650px"></div>
<div class="vl" style="left:851.45px;top:1750px;height:110px;background:#e7dcd9"></div>
<div class="vh" style="left:851.45px;top:1911px;height:10px"></div>
<div class="vh" style="left:908.95px;top:51px;height:49px"></div>
<div class="vl" style="left:908.95px;top:100px;height:1650px"></div>
<div class="vl" style="left:908.95px;top:1750px;height:110px;background:#e7dcd9"></div>
<div class="vh" style="left:908.95px;top:1911px;height:10px"></div>
<div class="vh" style="left:966.45px;top:51px;height:49px"></div>
<div class="vl" style="left:966.45px;top:100px;height:1650px"></div>
<div class="vl" style="left:966.45px;top:1750px;height:110px;background:#e7dcd9"></div>
<div class="vh" style="left:966.45px;top:1911px;height:10px"></div>
<div class="vz" style="left:1022.5px;top:0;height:1917px"></div>
<div class="vh" style="left:1081.45px;top:51px;height:49px"></div>
<div class="vl" style="left:1081.45px;top:100px;height:1650px"></div>
<div class="vl" style="left:1081.45px;top:1750px;height:110px;background:#e7dcd9"></div>
<div class="vh" style="left:1081.45px;top:1911px;height:10px"></div>
<div class="vh" style="left:1138.95px;top:51px;height:49px"></div>
<div class="vl" style="left:1138.95px;top:100px;height:1650px"></div>
<div class="vl" style="left:1138.95px;top:1750px;height:110px;background:#e7dcd9"></div>
<div class="vh" style="left:1138.95px;top:1911px;height:10px"></div>
<div class="vh" style="left:1196.45px;top:51px;height:49px"></div>
<div class="vl" style="left:1196.45px;top:100px;height:1650px"></div>
<div class="vl" style="left:1196.45px;top:1750px;height:110px;background:#e7dcd9"></div>
<div class="vh" style="left:1196.45px;top:1911px;height:10px"></div>
<div class="vh" style="left:1253.95px;top:51px;height:49px"></div>
<div class="vl" style="left:1253.95px;top:100px;height:1650px"></div>
<div class="vl" style="left:1253.95px;top:1750px;height:110px;background:#e7dcd9"></div>
<div class="vh" style="left:1253.95px;top:1911px;height:10px"></div>
<div class="vh" style="left:1311.45px;top:51px;height:49px"></div>
<div class="vl" style="left:1311.45px;top:100px;height:1650px"></div>
<div class="vl" style="left:1311.45px;top:1750px;height:110px;background:#e7dcd9"></div>
<div class="vh" style="left:1311.45px;top:1911px;height:10px"></div>
<div class="vh" style="left:1368.95px;top:51px;height:49px"></div>
<div class="vl" style="left:1368.95px;top:100px;height:1650px"></div>
<div class="vl" style="left:1368.95px;top:1750px;height:110px;background:#e7dcd9"></div>
<div class="vh" style="left:1368.95px;top:1911px;height:10px"></div>
<div class="vh" style="left:1426.45px;top:51px;height:49px"></div>
<div class="vl" style="left:1426.45px;top:100px;height:1650px"></div>
<div class="vl" style="left:1426.45px;top:1750px;height:110px;background:#e7dcd9"></div>
<div class="vh" style="left:1426.45px;top:1911px;height:10px"></div>
<div class="vh" style="left:1483.95px;top:51px;height:49px"></div>
<div class="vl" style="left:1483.95px;top:100px;height:1650px"></div>
<div class="vl" style="left:1483.95px;top:1750px;height:110px;background:#e7dcd9"></div>
<div class="vh" style="left:1483.95px;top:1911px;height:10px"></div>
<div class="vh" style="left:1541.45px;top:51px;height:49px"></div>
<div class="vl" style="left:1541.45px;top:100px;height:1650px"></div>
<div class="vl" style="left:1541.45px;top:1750px;height:110px;background:#e7dcd9"></div>
<div class="vh" style="left:1541.45px;top:1911px;height:10px"></div>
<div class="hn" style="top:50px">
<div class="c">56</div>
<div class="c">57</div>
<div class="c">58</div>
<div class="c">59</div>
<div class="c">60</div>
<div class="c">61</div>
<div class="c">62</div>
<div class="c">63</div>
<div class="c">64</div>
<div class="c">65</div>
<div class="c">66</div>
<div class="c">67</div>
<div class="c">68</div>
<div class="c">69</div>
<div class="c">70</div>
<div class="c">71</div>
<div class="c">72</div>
<div class="c">73</div>
<div class="c">74</div>
<div class="c">75</div>
<div class="c">76</div>
<div class="c">77</div>
<div class="c">78</div>
<div class="c">79</div>
<div class="c">80</div>
</div>
<div class="zl" style="left:134.5px;top:0px">六区</div>
<div class="zl" style="left:708px;top:0px">七区</div>
<div class="zl" style="left:1283px;top:0px">八区</div>
<div class="zl" style="left:134.5px;top:1860px">六区</div>
<div class="zl" style="left:708px;top:1860px">七区</div>
<div class="zl" style="left:1283px;top:1860px">八区</div>
<div class="abs" style="left:0;top:0;width:152px;height:1917px;overflow:hidden">
<div class="abs hd" style="left:0;top:0;width:148px;height:100px"></div>
<div class="abs" style="left:45px;top:25px;font-size:29.5px;line-height:50px;color:#666;white-space:nowrap">期次</div>
<svg class="abs" style="left:108px;top:32px" width="20" height="36" viewBox="0 0 20 36"><path d="M2 15.5 L9.5 2.5 L17 15.5Z" fill="#f00"/><path d="M2 20.5 L9.5 33 L17 20.5Z" fill="#666"/></svg>
<div class="abs" style="left:0;top:100px;width:148px;height:55px;background:#fff"><div class="per">25348</div></div>
<div class="abs" style="left:0;top:155px;width:148px;height:55px;background:#f5f5f5"><div class="per">25349</div></div>
<div class="abs" style="left:0;top:210px;width:148px;height:55px;background:#fff"><div class="per">25350</div></div>
<div class="abs" style="left:0;top:265px;width:148px;height:55px;background:#f5f5f5"><div class="per">25351</div></div>
<div class="abs" style="left:0;top:320px;width:148px;height:55px;background:#fff"><div class="per">26001</div></div>
<div class="abs" style="left:0;top:375px;width:148px;height:55px;background:#f5f5f5"><div class="per">26002</div></div>
<div class="abs" style="left:0;top:430px;width:148px;height:55px;background:#fff"><div class="per">26003</div></div>
<div class="abs" style="left:0;top:485px;width:148px;height:55px;background:#f5f5f5"><div class="per">26004</div></div>
<div class="abs" style="left:0;top:540px;width:148px;height:55px;background:#fff"><div class="per">26005</div></div>
<div class="abs" style="left:0;top:595px;width:148px;height:55px;background:#f5f5f5"><div class="per">26006</div></div>
<div class="abs" style="left:0;top:650px;width:148px;height:55px;background:#fff"><div class="per">26007</div></div>
<div class="abs" style="left:0;top:705px;width:148px;height:55px;background:#f5f5f5"><div class="per">26008</div></div>
<div class="abs" style="left:0;top:760px;width:148px;height:55px;background:#fff"><div class="per">26009</div></div>
<div class="abs" style="left:0;top:815px;width:148px;height:55px;background:#f5f5f5"><div class="per">26010</div></div>
<div class="abs" style="left:0;top:870px;width:148px;height:55px;background:#fff"><div class="per">26011</div></div>
<div class="abs" style="left:0;top:925px;width:148px;height:55px;background:#f5f5f5"><div class="per">26012</div></div>
<div class="abs" style="left:0;top:980px;width:148px;height:55px;background:#fff"><div class="per">26013</div></div>
<div class="abs" style="left:0;top:1035px;width:148px;height:55px;background:#f5f5f5"><div class="per">26014</div></div>
<div class="abs" style="left:0;top:1090px;width:148px;height:55px;background:#fff"><div class="per">26015</div></div>
<div class="abs" style="left:0;top:1145px;width:148px;height:55px;background:#f5f5f5"><div class="per">26016</div></div>
<div class="abs" style="left:0;top:1200px;width:148px;height:55px;background:#fff"><div class="per">26017</div></div>
<div class="abs" style="left:0;top:1255px;width:148px;height:55px;background:#f5f5f5"><div class="per">26018</div></div>
<div class="abs" style="left:0;top:1310px;width:148px;height:55px;background:#fff"><div class="per">26019</div></div>
<div class="abs" style="left:0;top:1365px;width:148px;height:55px;background:#f5f5f5"><div class="per">26020</div></div>
<div class="abs" style="left:0;top:1420px;width:148px;height:55px;background:#fff"><div class="per">26021</div></div>
<div class="abs" style="left:0;top:1475px;width:148px;height:55px;background:#f5f5f5"><div class="per">26022</div></div>
<div class="abs" style="left:0;top:1530px;width:148px;height:55px;background:#fff"><div class="per">26023</div></div>
<div class="abs" style="left:0;top:1585px;width:148px;height:55px;background:#f5f5f5"><div class="per">26024</div></div>
<div class="abs" style="left:0;top:1640px;width:148px;height:55px;background:#fff"><div class="per">26025</div></div>
<div class="abs" style="left:0;top:1695px;width:148px;height:55px;background:#f5f5f5"><div class="per">26026</div></div>
<div class="abs" style="left:0;top:1750px;width:148px;height:55px;background:#feeee9"><div class="radio"></div><div class="xh">选号</div></div>
<div class="abs" style="left:0;top:1805px;width:148px;height:55px;background:#feeee9"><div class="radio"></div><div class="xh">选号</div></div>
<div class="abs hd" style="left:0;top:1860px;width:148px;height:60px"></div>
<div class="abs" style="left:70px;top:1910px;width:11px;height:2.5px;background:#666"></div>
<div class="hl5" style="top:374px;width:148px"></div>
<div class="hl5" style="top:649px;width:148px"></div>
<div class="hl5" style="top:924px;width:148px"></div>
<div class="hl5" style="top:1199px;width:148px"></div>
<div class="hl5" style="top:1474px;width:148px"></div>
<div class="abs" style="left:147.5px;top:0;width:4.5px;height:1917px;background:#c4c4c4"></div>
</div>
<div class="abs" style="left:1510px;top:1872.5px;width:120px;height:80px;border-radius:40px 0 0 0;background:#c9c9c9;color:#fff;font-size:28px;font-weight:500;line-height:40px;padding:14px 0 0 17px;white-space:nowrap">展开</div>
</div>
<svg class="abs" style="left:0;top:0" width="1600" height="2097" viewBox="0 0 1600 2097" fill="none" stroke="#0b66c3" stroke-width="4.6">
<rect x="1197.9" y="1215" width="55.7" height="772.7"/>
<rect x="972.8" y="1272.7" width="49.0" height="711.4"/>
<rect x="911.7" y="1434" width="56.5" height="546.7"/>
<rect x="791.1" y="1549.4" width="61.1" height="436.6"/>
<rect x="1137.9" y="1550" width="60.3" height="437.7"/>
<rect x="1427.7" y="1436.4" width="56.1" height="546.6"/>
<path d="M708.1 1626.9 L594.4 1956.3" stroke-width="4.3"/>
</svg>
</body></html>
